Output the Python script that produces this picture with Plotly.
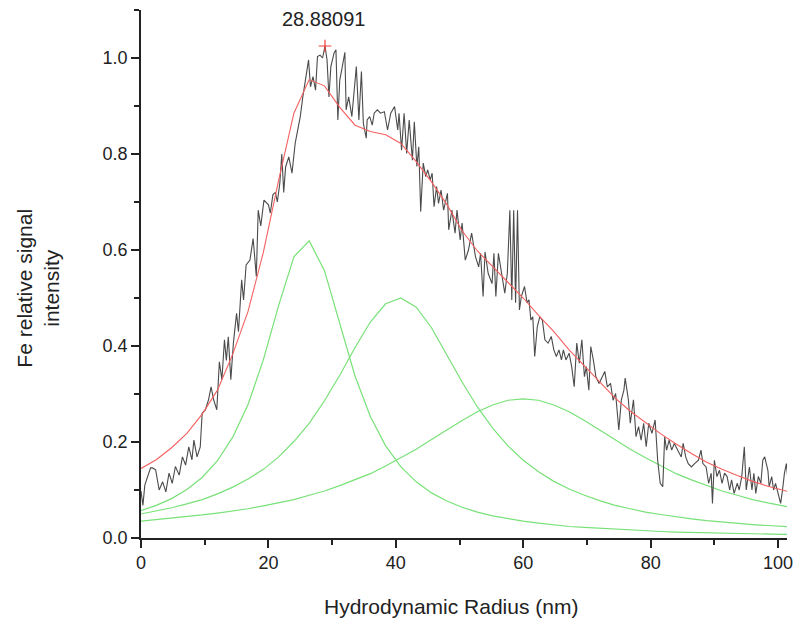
import plotly.graph_objects as go

# ---- measured (noisy) data: Fe relative signal vs hydrodynamic radius ----
meas_x = [0.0, 0.3, 0.6, 1.0, 1.5, 1.8, 2.3, 2.85, 3.4, 3.9, 4.4, 4.9, 5.4, 6.0, 6.5, 7.0, 7.5, 8.0, 8.3, 8.8,
          9.3, 9.6, 10.1, 10.6, 11.0, 11.4, 11.9, 12.3, 12.7, 13.1, 13.4, 13.7, 14.1, 14.5, 15.0, 15.3, 15.8, 16.1, 16.5, 17.1,
          17.6, 18.1, 18.4, 18.8, 19.3, 20.0, 20.3, 20.7, 21.1, 21.4, 21.8, 22.1, 22.4, 22.7, 23.2, 23.7, 24.2, 24.7, 25.0, 25.4,
          25.9, 26.3, 26.6, 27.0, 27.4, 27.7, 28.1, 28.5, 28.88091, 29.2, 29.5, 29.8, 30.3, 30.6, 30.9, 31.2, 31.6, 32.0, 32.2, 32.6,
          33.1, 33.4, 33.8, 34.2, 34.6, 34.9, 35.35, 35.5, 35.9, 36.3, 36.6, 37.1, 37.6, 38.2, 38.7, 39.2, 39.8, 40.3, 40.5, 40.9,
          41.3, 41.7, 42.1, 42.6, 42.9, 43.3, 43.6, 43.9, 44.3, 44.7, 45.0, 45.4, 45.7, 46.0, 46.4, 46.7, 47.1, 47.5, 48.1, 48.3,
          48.8, 49.3, 49.6, 50.1, 50.4, 50.9, 51.4, 51.9, 52.5, 53.0, 53.3, 53.7, 54.0, 54.5, 55.1, 55.4, 55.7, 56.1, 56.6, 57.1,
          57.5, 57.9, 58.2, 58.5, 58.8, 59.1, 59.4, 59.7, 60.2, 60.6, 60.9, 61.2, 61.5, 61.8, 62.2, 62.6, 63.0, 63.4, 63.9, 64.4,
          64.8, 65.2, 65.6, 66.0, 66.3, 66.7, 67.2, 67.6, 68.0, 68.4, 68.8, 69.2, 69.6, 69.9, 70.3, 70.6, 71.0, 71.4, 71.9, 72.4,
          72.8, 73.2, 73.7, 74.1, 74.5, 75.0, 75.4, 75.8, 76.0, 76.5, 76.8, 77.3, 77.7, 78.1, 78.5, 78.9, 79.3, 79.7, 80.2, 80.7,
          81.1, 81.5, 81.9, 82.2, 82.5, 82.9, 83.3, 83.7, 84.2, 84.8, 85.1, 85.5, 85.9, 86.4, 86.9, 87.5, 87.9, 88.2, 88.7, 89.1,
          89.5, 89.7, 90.0, 90.4, 90.8, 91.2, 91.6, 92.0, 92.4, 92.7, 93.1, 93.6, 93.9, 94.3, 94.7, 95.0, 95.5, 95.9, 96.2, 96.5,
          96.9, 97.3, 97.6, 97.9, 98.4, 98.6, 99.0, 99.3, 99.6, 100.0, 100.4, 100.7, 101.0, 101.3, 101.6]
meas_y = [0.098, 0.068, 0.110, 0.125, 0.146, 0.146, 0.142, 0.100, 0.117, 0.096, 0.135, 0.114, 0.149, 0.131, 0.169, 0.152, 0.190, 0.163, 0.204, 0.169,
          0.190, 0.260, 0.267, 0.288, 0.315, 0.288, 0.267, 0.367, 0.330, 0.413, 0.370, 0.419, 0.330, 0.406, 0.468, 0.430, 0.538, 0.496, 0.569, 0.579,
          0.624, 0.545, 0.683, 0.650, 0.704, 0.694, 0.677, 0.715, 0.720, 0.700, 0.740, 0.800, 0.720, 0.773, 0.794, 0.760, 0.822, 0.857, 0.878, 0.919,
          0.968, 0.996, 0.940, 0.961, 0.933, 1.003, 1.006, 1.000, 1.025, 0.996, 0.919, 0.982, 1.010, 1.017, 0.871, 0.954, 0.982, 1.012, 0.892, 0.919,
          0.878, 0.919, 0.982, 0.871, 0.972, 0.864, 0.833, 0.871, 0.878, 0.860, 0.885, 0.892, 0.885, 0.888, 0.850, 0.885, 0.899, 0.850, 0.885, 0.808,
          0.885, 0.801, 0.871, 0.787, 0.867, 0.774, 0.815, 0.680, 0.781, 0.753, 0.767, 0.746, 0.760, 0.690, 0.732, 0.697, 0.725, 0.683, 0.718, 0.642,
          0.683, 0.635, 0.683, 0.621, 0.656, 0.579, 0.600, 0.635, 0.586, 0.565, 0.593, 0.503, 0.596, 0.551, 0.530, 0.593, 0.503, 0.593, 0.551, 0.510,
          0.551, 0.683, 0.496, 0.683, 0.490, 0.683, 0.475, 0.503, 0.524, 0.490, 0.496, 0.454, 0.461, 0.378, 0.440, 0.461, 0.454, 0.413, 0.406, 0.420,
          0.392, 0.378, 0.392, 0.371, 0.392, 0.371, 0.385, 0.357, 0.315, 0.406, 0.364, 0.413, 0.336, 0.357, 0.308, 0.399, 0.371, 0.336, 0.322, 0.336,
          0.347, 0.315, 0.322, 0.287, 0.301, 0.225, 0.288, 0.308, 0.333, 0.288, 0.239, 0.288, 0.211, 0.232, 0.204, 0.239, 0.190, 0.239, 0.218, 0.246,
          0.162, 0.114, 0.107, 0.211, 0.183, 0.204, 0.183, 0.197, 0.183, 0.169, 0.197, 0.169, 0.155, 0.148, 0.155, 0.162, 0.183, 0.155, 0.148, 0.114,
          0.135, 0.072, 0.162, 0.128, 0.141, 0.114, 0.135, 0.128, 0.100, 0.121, 0.093, 0.114, 0.100, 0.128, 0.190, 0.100, 0.148, 0.100, 0.135, 0.093,
          0.128, 0.114, 0.162, 0.169, 0.141, 0.107, 0.128, 0.100, 0.114, 0.093, 0.072, 0.100, 0.135, 0.155, 0.114]

# ---- fitted peaks (green) and cumulative fit (red), read at these radii ----
fit_x = [0.0, 2.4, 4.8, 7.2, 9.6, 12.0, 14.4, 16.8, 19.2, 21.6, 24.0, 26.4, 28.8, 31.2, 33.6, 36.0, 38.4, 40.8, 43.2, 45.6,
         48.0, 50.4, 52.8, 55.2, 57.6, 60.0, 62.4, 64.8, 67.2, 69.6, 72.0, 74.4, 76.8, 79.2, 81.6, 84.0, 86.4, 88.8, 91.2, 93.6,
         96.0, 98.4, 100.8, 103.2]
peak1 = [0.057, 0.068, 0.082, 0.101, 0.126, 0.161, 0.210, 0.278, 0.371, 0.484, 0.586, 0.619, 0.557, 0.445, 0.337, 0.253, 0.192, 0.148, 0.117, 0.094,
         0.077, 0.064, 0.054, 0.046, 0.040, 0.035, 0.031, 0.027, 0.024, 0.022, 0.020, 0.018, 0.016, 0.015, 0.0135, 0.0124, 0.0115, 0.0106, 0.0099, 0.0092,
         0.0086, 0.0080, 0.0075, 0.0071]
peak2 = [0.050, 0.056, 0.063, 0.071, 0.080, 0.092, 0.106, 0.123, 0.143, 0.169, 0.201, 0.239, 0.286, 0.339, 0.397, 0.450, 0.488, 0.500, 0.481, 0.438,
         0.382, 0.325, 0.273, 0.229, 0.192, 0.162, 0.138, 0.118, 0.102, 0.089, 0.078, 0.068, 0.061, 0.054, 0.049, 0.044, 0.040, 0.036, 0.033, 0.030,
         0.028, 0.026, 0.024, 0.022]
peak3 = [0.035, 0.038, 0.041, 0.044, 0.048, 0.052, 0.056, 0.061, 0.067, 0.073, 0.080, 0.089, 0.098, 0.109, 0.121, 0.134, 0.150, 0.167, 0.185, 0.205,
         0.225, 0.245, 0.263, 0.277, 0.287, 0.290, 0.287, 0.277, 0.263, 0.245, 0.225, 0.205, 0.185, 0.167, 0.150, 0.134, 0.121, 0.109, 0.098, 0.089,
         0.080, 0.073, 0.067, 0.061]
cumulative = [0.145, 0.163, 0.188, 0.218, 0.258, 0.308, 0.383, 0.472, 0.595, 0.745, 0.885, 0.955, 0.942, 0.897, 0.860, 0.847, 0.840, 0.822, 0.784, 0.742,
              0.695, 0.640, 0.598, 0.566, 0.532, 0.500, 0.464, 0.430, 0.392, 0.358, 0.324, 0.292, 0.264, 0.240, 0.217, 0.196, 0.176, 0.158, 0.143, 0.130,
              0.118, 0.108, 0.099, 0.091]

peak_x = 28.88091
peak_y = 1.025
peak_label = "28.88091"

x_ticks = [0, 20, 40, 60, 80, 100]
y_ticks = [0.0, 0.2, 0.4, 0.6, 0.8, 1.0]

FONT = "Liberation Sans, Arial, sans-serif"
GREEN = "rgb(120,225,120)"
RED = "rgb(245,95,95)"

fig = go.Figure()
for pk in (peak1, peak2, peak3):
    fig.add_trace(go.Scatter(x=fit_x, y=pk, mode="lines",
                             line=dict(color=GREEN, width=1.2), showlegend=False, hoverinfo="skip"))
fig.add_trace(go.Scatter(x=meas_x, y=meas_y, mode="lines",
                         line=dict(color="rgb(75,75,75)", width=1.1), showlegend=False))
fig.add_trace(go.Scatter(x=fit_x, y=cumulative, mode="lines",
                         line=dict(color=RED, width=1.1), showlegend=False))
fig.add_trace(go.Scatter(x=[peak_x], y=[peak_y], mode="markers",
                         marker=dict(symbol="cross-thin", size=9, line=dict(color="rgb(240,60,60)", width=1.2)),
                         showlegend=False))

fig.add_annotation(x=peak_x, y=peak_y, text=peak_label, showarrow=False,
                   yanchor="middle", yshift=27, xshift=-1,
                   font=dict(family=FONT, size=20, color="#222"))

fig.add_annotation(xref="paper", yref="paper", x=0.48, y=-0.129,
                   text="Hydrodynamic Radius (nm)", showarrow=False,
                   xanchor="center", yanchor="middle",
                   font=dict(family=FONT, size=21, color="#222"))
fig.add_annotation(xref="paper", yref="paper", x=-0.16, y=0.4735,
                   text="Fe relative signal<br>intensity", showarrow=False, textangle=-90,
                   xanchor="center", yanchor="middle",
                   font=dict(family=FONT, size=21, color="#222"))

axis_common = dict(showgrid=False, zeroline=False, showline=True, linecolor="#222", linewidth=1.5,
                   ticks="outside", tickcolor="#222", tickwidth=1.5, ticklen=8,
                   ticklabeloverflow="allow",
                   tickfont=dict(family=FONT, size=18, color="#222"))

fig.update_xaxes(range=[0, 101.4], tickvals=x_ticks, ticktext=[str(v) for v in x_ticks],
                 minor=dict(tickvals=[10, 30, 50, 70, 90], ticks="outside", ticklen=5, tickcolor="#222", tickwidth=1.5),
                 **axis_common)
fig.update_yaxes(range=[0, 1.1], tickvals=y_ticks, ticktext=[f"{v:.1f}" for v in y_ticks],
                 minor=dict(tickvals=[0.1, 0.3, 0.5, 0.7, 0.9, 1.1], ticks="outside", ticklen=5, tickcolor="#222", tickwidth=1.5),
                 **axis_common)

fig.update_layout(width=797, height=623, margin=dict(l=141, r=4, t=10, b=85),
                  plot_bgcolor="white", paper_bgcolor="white")

fig.write_html("out.html")
